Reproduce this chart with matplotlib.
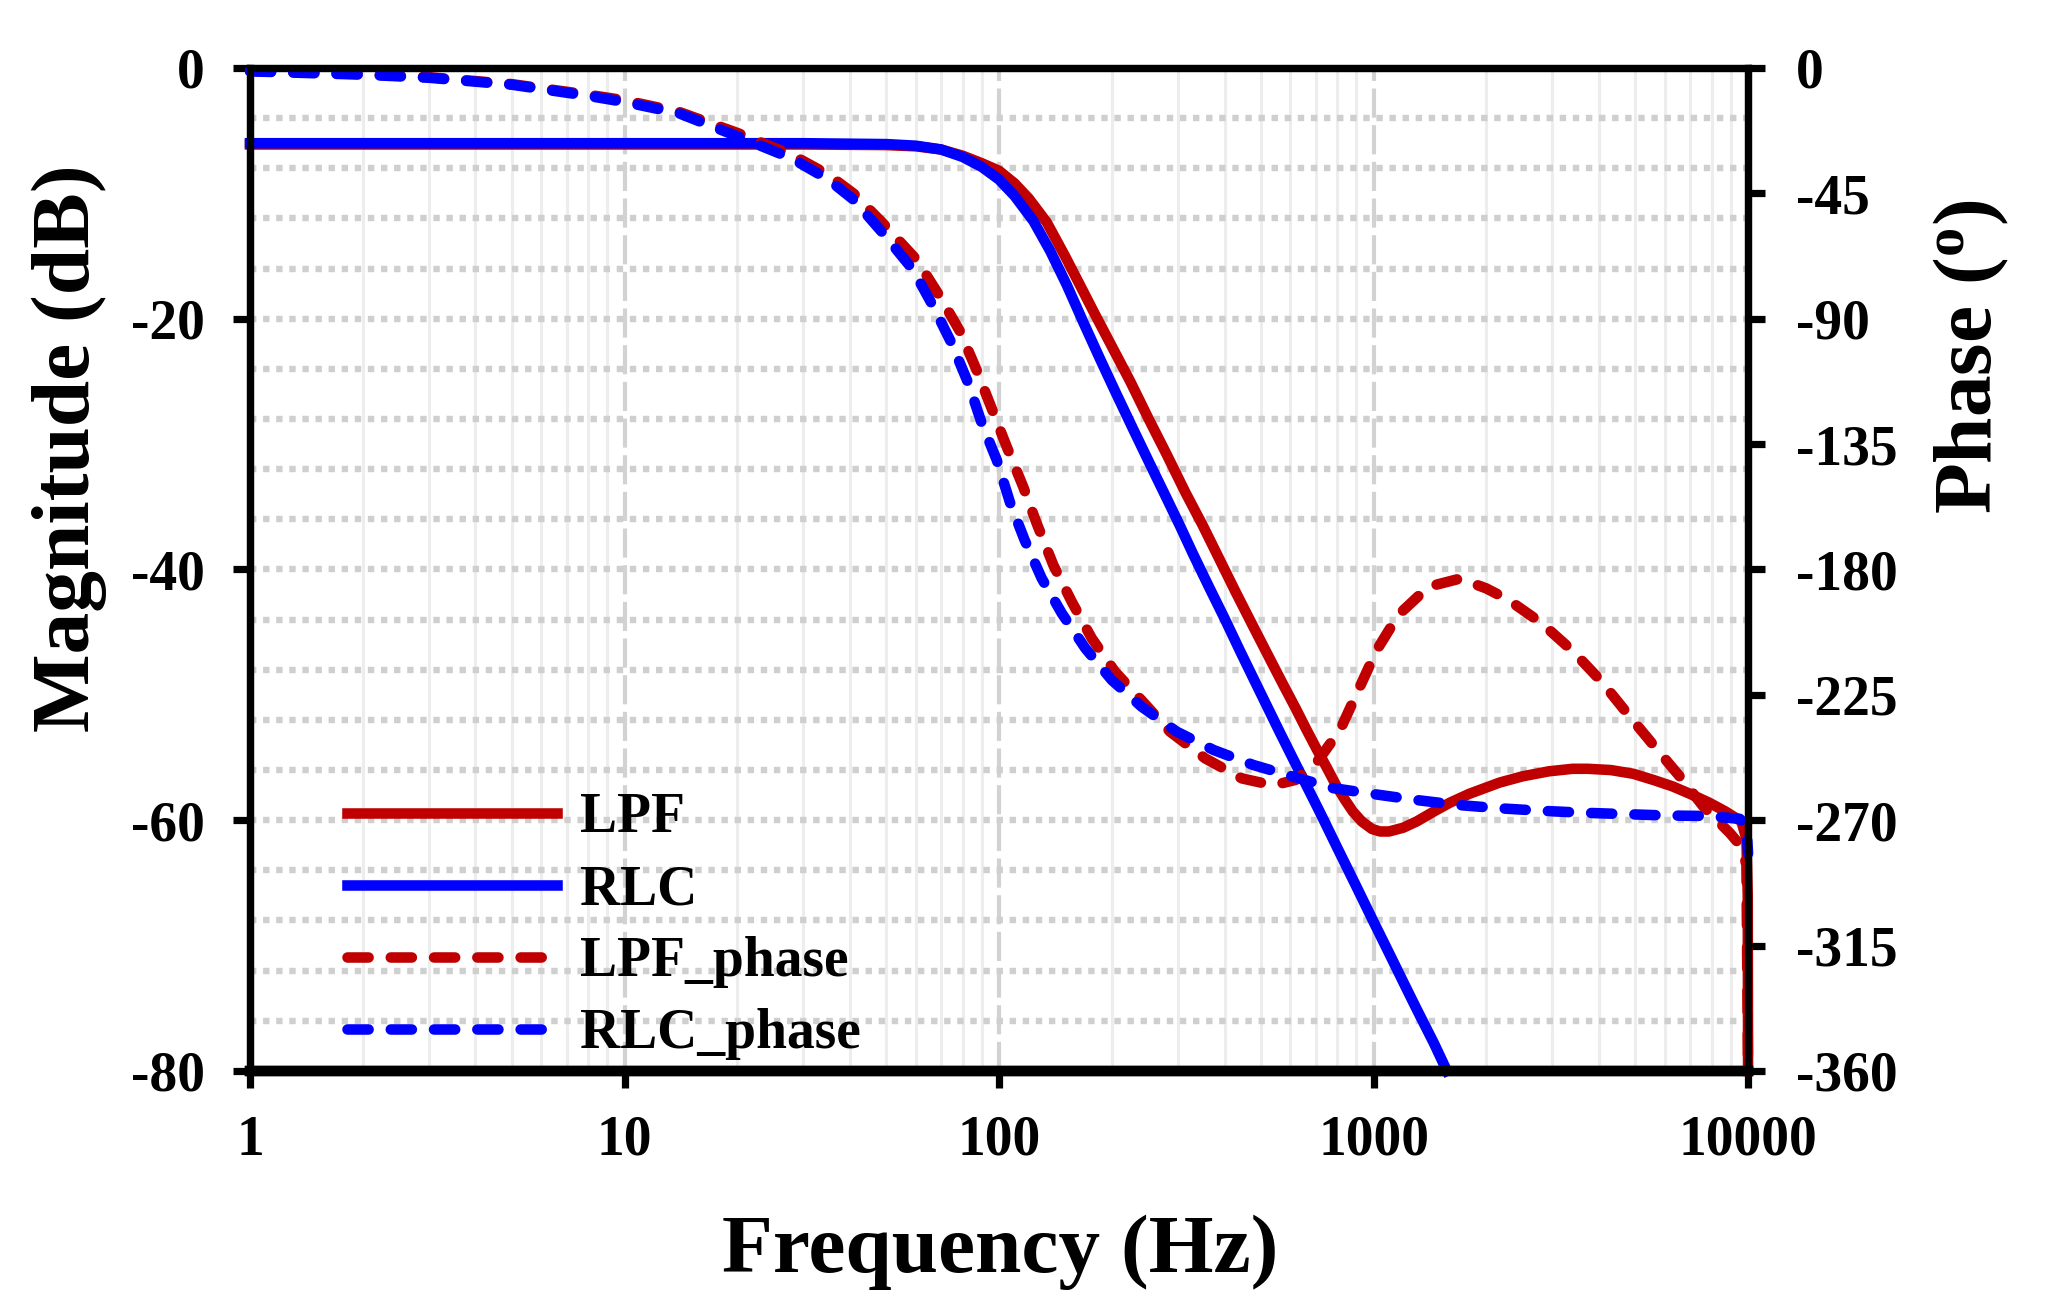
import matplotlib
matplotlib.use("Agg")
import matplotlib.pyplot as plt
from matplotlib.ticker import LogLocator, MultipleLocator, NullFormatter

plt.rcParams['font.family'] = ['Liberation Serif', 'DejaVu Serif']
plt.rcParams['font.weight'] = 'bold'
plt.rcParams['axes.unicode_minus'] = False
plt.rcParams['mathtext.fontset'] = 'custom'
plt.rcParams['mathtext.rm'] = 'Liberation Serif:bold'
plt.rcParams['mathtext.bf'] = 'Liberation Serif:bold'

## data
freq_lpf_mag = [1, 30, 50, 60, 70, 80, 90, 100, 110, 120, 134, 150, 165, 180, 200, 224, 250, 280, 315, 350,
                385, 430, 480, 530, 574, 620, 660, 704, 750, 797, 840, 880, 930, 990, 1041, 1100, 1200, 1304,
                1450, 1600, 1800, 2170, 2500, 2940, 3400, 3734, 4300, 4940, 5600, 6280, 7000, 7870, 8700,
                9600, 9900, 9980, 10000]
lpf_mag = [-6.1, -6.1, -6.15, -6.25, -6.5, -7.0, -7.6, -8.2, -9.2, -10.4, -12.3, -15.0, -17.4, -19.6, -22.2,
           -25.0, -27.9, -30.8, -33.9, -36.5, -39.0, -41.9, -44.7, -47.2, -49.2, -51.1, -52.7, -54.3, -55.8,
           -57.3, -58.4, -59.3, -60.1, -60.7, -60.9, -60.9, -60.6, -60.1, -59.3, -58.6, -57.9, -57.0, -56.5,
           -56.1, -55.9, -55.9, -56.0, -56.3, -56.8, -57.3, -57.9, -58.6, -59.3, -60.1, -61.5, -66.0, -80.0]

freq_rlc_mag = [1, 30, 50, 60, 70, 80, 90, 100, 110, 123.5, 137, 151.6, 168, 186, 205, 228, 253, 280, 305,
                330, 365, 400, 440, 487, 560, 636, 720, 800, 900, 1000, 1100, 1200, 1300, 1450, 1570]
rlc_mag = [-6.0, -6.0, -6.07, -6.2, -6.5, -7.1, -7.9, -8.9, -10.2, -12.2, -14.6, -17.3, -20.3, -23.2, -25.9,
           -28.8, -31.6, -34.3, -36.6, -38.8, -41.5, -43.9, -46.5, -49.2, -52.9, -56.2, -59.4, -62.2, -65.3,
           -68.1, -70.6, -72.9, -75.0, -77.8, -80.0]

freq_lpf_ph = [1, 2, 3, 5, 8, 10, 14, 20, 28, 35, 41, 49, 60.3, 69.5, 78.7, 87.1, 95.5, 104.8, 116, 126,
               139.6, 156.4, 176.8, 204, 240, 286, 355, 445, 540, 620, 702, 814, 920, 1020, 1165, 1401, 1700,
               2000, 2291, 2812, 3416, 4066, 4792, 5585, 6580, 7597, 8954, 9600, 9900, 10000]
lpf_ph = [-1.1, -2.2, -3.3, -5.8, -9.6, -11.6, -15.8, -23.3, -31.2, -38.3, -45.2, -55.8, -68.9, -82.0, -94.6,
          -108.4, -122.1, -135.9, -150.3, -163.4, -178.4, -191.6, -204.7, -216.7, -226.9, -238.2, -247.8,
          -255.0, -257.5, -255.5, -249.6, -237.6, -222.0, -208.9, -196.3, -186.2, -183.3, -186.8, -190.9,
          -199.3, -209.5, -220.3, -232.2, -243.0, -254.4, -265.1, -274.7, -279.5, -286.0, -360.0]

freq_rlc_ph = [1, 2, 3, 5, 8, 10, 14, 20, 28, 35, 41, 49, 59, 66.8, 74.7, 82.8, 89.9, 98.6, 107, 117, 130,
               147, 170, 200, 240, 298, 374, 478, 611, 781, 1009, 1291, 1668, 2153, 2783, 3595, 4645, 6000,
               7757, 9500, 9900, 10000]
rlc_ph = [-1.2, -2.4, -3.5, -6.0, -10.0, -12.2, -16.3, -24.5, -32.5, -40.0, -47.4, -59.3, -72.5, -85.7, -98.8,
          -113.2, -127.5, -140.7, -156.0, -169.4, -183.2, -195.7, -208.3, -219.7, -229.2, -238.2, -244.8,
          -250.2, -254.4, -258.5, -260.7, -262.7, -264.5, -265.7, -266.6, -267.3, -267.8, -268.3, -268.5,
          -269.5, -272.0, -282.0]

x_ticks = [1, 10, 100, 1000, 10000]
x_tick_labels = ['1', '10', '100', '1000', '10000']
mag_ticks = [0, -20, -40, -60, -80]
phase_ticks = [0, -45, -90, -135, -180, -225, -270, -315, -360]
series_labels = ['LPF', 'RLC', 'LPF_phase', 'RLC_phase']

red = '#C00000'
blue = '#0000FF'
lw = 7.6

fig = plt.figure(figsize=(20.51, 13.15), dpi=100)
ax = fig.add_axes([0.1219, 0.1856, 0.7304, 0.7627])
ax2 = ax.twinx()

ax.set_xscale('log')
ax.set_xlim(1, 10000)
ax.set_ylim(-80, 0)
ax2.set_ylim(-360, 0)

# grid
ax.xaxis.set_minor_locator(LogLocator(base=10, subs=range(2, 10)))
ax.xaxis.set_minor_formatter(NullFormatter())
ax.yaxis.set_minor_locator(MultipleLocator(4))
ax.grid(which='both', axis='y', color='#cfcfcf', lw=4.6, ls=(0, (1, 1.05)))
ax.grid(which='minor', axis='x', color='#ededed', lw=2.2, ls='-')
ax.grid(which='major', axis='x', color='#d2d2d2', lw=3, ls=(0, (7, 1.8)))

dash = (0, (2.0, 2.1))
l1, = ax.plot(freq_lpf_mag, lpf_mag, color=red, lw=lw, clip_on=False)
l2, = ax.plot(freq_rlc_mag, rlc_mag, color=blue, lw=lw, clip_on=False)
l3, = ax2.plot(freq_lpf_ph, lpf_ph, color=red, lw=lw, ls=dash, dash_capstyle='round', clip_on=False)
l4, = ax2.plot(freq_rlc_ph, rlc_ph, color=blue, lw=lw, ls=dash, dash_capstyle='round', clip_on=False)

ax.set_xticks(x_ticks, labels=x_tick_labels)
ax.set_yticks(mag_ticks)
ax2.set_yticks(phase_ticks)
ax.tick_params(which='major', direction='out', length=12.5, width=5.2, labelsize=40)
ax.tick_params(axis='x', pad=19)
ax.tick_params(axis='y', pad=20)
ax.tick_params(which='minor', length=0)
ax2.tick_params(which='major', direction='out', length=12.5, width=5.2, labelsize=40, pad=22)
ax2.tick_params(which='minor', length=0)

for a in (ax, ax2):
    for s in a.spines.values():
        s.set_linewidth(5.2)
    a.spines['bottom'].set_linewidth(7.5)

fig.text(0.034, 0.659, 'Magnitude (dB)', rotation=90, ha='center', va='center', fontsize=60)
fig.text(0.961, 0.7285, r'Phase ($\mathbf{^o}$)', rotation=90, ha='center', va='center', fontsize=60)
fig.text(0.4876, 0.0327, 'Frequency (Hz)', ha='center', va='baseline', fontsize=60)

ax2.legend([l1, l2, l3, l4], series_labels, loc='upper left', bbox_to_anchor=(0.0648, 0.278),
           frameon=False, borderpad=0, borderaxespad=0, handlelength=3.78, handletextpad=0.42,
           labelspacing=0.36, fontsize=40)

fig.savefig('out.png', dpi=100)
